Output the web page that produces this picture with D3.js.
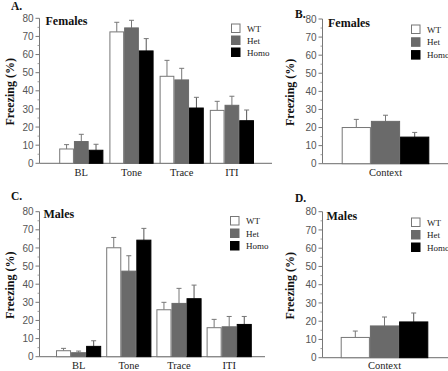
<!DOCTYPE html>
<html><head><meta charset="utf-8">
<script src="https://cdn.jsdelivr.net/npm/d3@7"></script>
<style>body{margin:0;background:#fff}svg{display:block}</style>
</head><body>
<svg id="c" width="448" height="371"></svg>
<script>
const genotypes = ["WT", "Het", "Homo"];
const phases = ["BL", "Tone", "Trace", "ITI"];
const contextCat = ["Context"];
const yTicks = [0, 10, 20, 30, 40, 50, 60, 70, 80];

const femalesPhaseWT = [7.9, 72.5, 48, 29.2];
const femalesPhaseHet = [12, 74.7, 46, 32];
const femalesPhaseHomo = [7.2, 62, 30.5, 23.5];
const femalesPhaseErrWT = [2.4, 5.3, 8.8, 5];
const femalesPhaseErrHet = [4, 4.2, 6.4, 5];
const femalesPhaseErrHomo = [3.3, 6.8, 5.9, 5.9];

const femalesContext = [20, 23.4, 14.7];
const femalesContextErr = [4.5, 3.4, 2.6];

const malesPhaseWT = [3.3, 60.1, 25.9, 16];
const malesPhaseHet = [2.2, 47.2, 29.4, 16.5];
const malesPhaseHomo = [5.7, 64.3, 32, 17.8];
const malesPhaseErrWT = [1.3, 5.7, 4.1, 4.6];
const malesPhaseErrHet = [0.9, 8.5, 8.3, 5.7];
const malesPhaseErrHomo = [3.1, 6.5, 7.5, 4.4];

const malesContext = [11.1, 17.4, 19.6];
const malesContextErr = [3.5, 4.9, 4.9];

const fills = {WT: "#ffffff", Het: "#6a6a6a", Homo: "#000000"};
const strokes = {WT: "#777777", Het: "#6a6a6a", Homo: "#000000"};

const svg = d3.select("#c");
const serif = "'Liberation Serif', 'Times New Roman', serif";
const sans = "'Liberation Sans', Arial, sans-serif";

function panel(o) {
  const g = svg.append("g");
  const y = d3.scaleLinear().domain([0, 80]).range([o.y0, o.y80]);
  const x = d3.scaleBand().domain(o.cats).range(o.xr).paddingInner(o.pi).paddingOuter(o.po);
  const xi = d3.scaleBand().domain(genotypes).range([0, x.bandwidth()]);

  g.append("line").attr("x1", o.ax).attr("x2", o.ax).attr("y1", y(80)).attr("y2", y(0))
    .attr("stroke", "#777").attr("stroke-width", 1);
  g.append("line").attr("x1", o.ax).attr("x2", o.xEnd).attr("y1", y(0)).attr("y2", y(0))
    .attr("stroke", "#888").attr("stroke-width", 1.2);
  const minor = d3.range(5, 80, 10);
  g.selectAll(".mn").data(minor).enter().append("line")
    .attr("x1", o.ax - 2).attr("x2", o.ax).attr("y1", d => y(d)).attr("y2", d => y(d))
    .attr("stroke", "#888").attr("stroke-width", 0.8);
  g.selectAll(".mj").data(yTicks).enter().append("line")
    .attr("x1", o.ax - 4).attr("x2", o.ax).attr("y1", d => y(d)).attr("y2", d => y(d))
    .attr("stroke", "#777").attr("stroke-width", 1);
  g.selectAll(".tl").data(yTicks).enter().append("text")
    .attr("x", o.ax - 6).attr("y", d => y(d) + 3.6)
    .attr("text-anchor", "end").attr("font-family", sans).attr("font-size", 10)
    .attr("fill", "#555").text(d => d);

  o.series.forEach((vals, si) => {
    const gen = genotypes[si];
    o.cats.forEach((c, ci) => {
      const bx = x(c) + xi(gen);
      const bw = xi.bandwidth();
      const v = vals[ci], e = o.errs[si][ci];
      const cx = bx + bw / 2;
      g.append("line").attr("x1", cx).attr("x2", cx).attr("y1", y(v)).attr("y2", y(v + e))
        .attr("stroke", gen === "Homo" ? "#555" : "#777").attr("stroke-width", 1);
      g.append("line").attr("x1", cx - 2.5).attr("x2", cx + 2.5).attr("y1", y(v + e)).attr("y2", y(v + e))
        .attr("stroke", "#777").attr("stroke-width", 1);
      g.append("rect").attr("x", bx + 0.5).attr("y", y(v)).attr("width", bw - 1).attr("height", y(0) - y(v))
        .attr("fill", fills[gen]).attr("stroke", strokes[gen]).attr("stroke-width", 1);
    });
  });

  g.selectAll(".cl").data(o.cats).enter().append("text")
    .attr("x", d => x(d) + x.bandwidth() / 2).attr("y", o.catY)
    .attr("text-anchor", "middle").attr("font-family", serif).attr("font-size", 10.5)
    .attr("fill", "#222").text(d => d);

  g.append("text").attr("transform", `translate(${o.titleX},${(y(0) + y(80)) / 2 + 1}) rotate(-90)`)
    .attr("text-anchor", "middle").attr("font-family", serif).attr("font-weight", "bold")
    .attr("font-size", 12).attr("fill", "#111").text("Freezing (%)");

  g.append("text").attr("x", o.letterX).attr("y", o.letterY).attr("font-family", serif)
    .attr("font-weight", "bold").attr("font-size", 11.5).attr("fill", "#111").text(o.letter);
  g.append("text").attr("x", o.sexX).attr("y", o.sexY).attr("font-family", serif)
    .attr("font-weight", "bold").attr("font-size", 12).attr("fill", "#111").text(o.sex);

  genotypes.forEach((gen, i) => {
    const ly = o.legY + i * o.legStep;
    g.append("rect").attr("x", o.legX + 0.5).attr("y", ly + 0.5).attr("width", 8.5).attr("height", 8.5)
      .attr("fill", fills[gen]).attr("stroke", strokes[gen]).attr("stroke-width", 1);
    g.append("text").attr("x", o.legX + 16).attr("y", ly + 8).attr("font-family", serif)
      .attr("font-size", 9).attr("fill", "#222").text(gen);
  });
}

panel({cats: phases, series: [femalesPhaseWT, femalesPhaseHet, femalesPhaseHomo],
  errs: [femalesPhaseErrWT, femalesPhaseErrHet, femalesPhaseErrHomo],
  y0: 163.3, y80: 18.3, ax: 39.5, xEnd: 272, xr: [56.2, 257], pi: 0.12, po: 0.06,
  catY: 175.5, titleX: 13.5, letter: "A.", letterX: 11, letterY: 10, sex: "Females", sexX: 45.5, sexY: 25,
  legX: 231, legY: 23.5, legStep: 12});
panel({cats: contextCat, series: [[femalesContext[0]], [femalesContext[1]], [femalesContext[2]]],
  errs: [[femalesContextErr[0]], [femalesContextErr[1]], [femalesContextErr[2]]],
  y0: 163.7, y80: 19, ax: 322.5, xEnd: 448, xr: [341.7, 429.3], pi: 0, po: 0,
  catY: 176, titleX: 294, letter: "B.", letterX: 295, letterY: 18, sex: "Females", sexX: 328, sexY: 27,
  legX: 411, legY: 24.5, legStep: 12.8});
panel({cats: phases, series: [malesPhaseWT, malesPhaseHet, malesPhaseHomo],
  errs: [malesPhaseErrWT, malesPhaseErrHet, malesPhaseErrHomo],
  y0: 356.7, y80: 211.7, ax: 39.5, xEnd: 265, xr: [53.5, 254.3], pi: 0.1, po: 0.05,
  catY: 368.5, titleX: 13.5, letter: "C.", letterX: 11, letterY: 200, sex: "Males", sexX: 43.5, sexY: 218,
  legX: 230, legY: 216, legStep: 12.5});
panel({cats: contextCat, series: [[malesContext[0]], [malesContext[1]], [malesContext[2]]],
  errs: [[malesContextErr[0]], [malesContextErr[1]], [malesContextErr[2]]],
  y0: 357.7, y80: 211.7, ax: 322.5, xEnd: 448, xr: [340.7, 428.3], pi: 0, po: 0,
  catY: 369, titleX: 294, letter: "D.", letterX: 295, letterY: 202, sex: "Males", sexX: 326.5, sexY: 220,
  legX: 411, legY: 217.5, legStep: 12.5});
</script>
</body></html>
